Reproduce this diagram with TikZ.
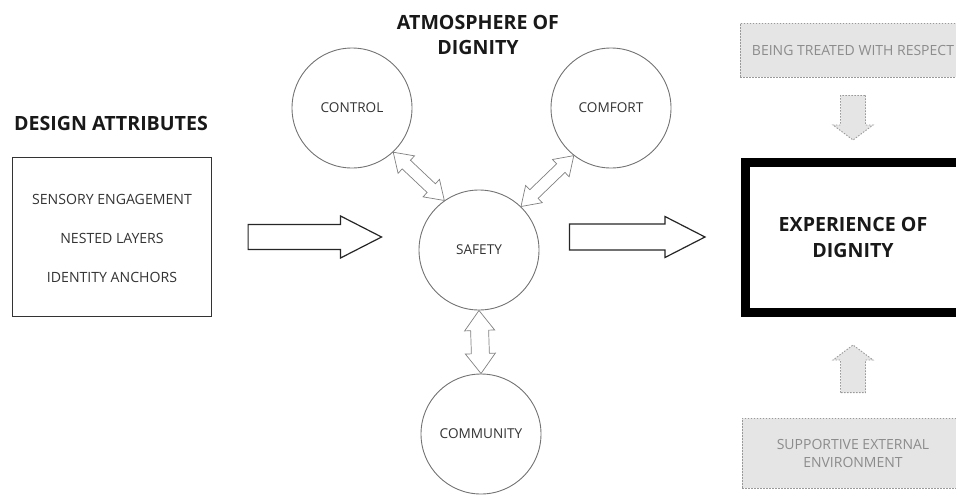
\documentclass[tikz,border=0pt]{standalone}
\usepackage{fontspec}
\setmainfont{Open Sans}
\usetikzlibrary{calc}

% hollow block arrow: style, from, to, shaft half width, head half width, head length
\newcommand{\hollowarrow}[6]{%
  \coordinate (ha-s) at (#2);
  \coordinate (ha-e) at (#3);
  \coordinate (ha-b) at ($(ha-e)!#6!(ha-s)$);
  \draw[#1] ($(ha-s)!#4!90:(ha-e)$) -- ($(ha-b)!#4!-90:(ha-s)$) -- ($(ha-b)!#5!-90:(ha-s)$) -- (ha-e)
    -- ($(ha-b)!#5!90:(ha-s)$) -- ($(ha-b)!#4!90:(ha-s)$) -- ($(ha-s)!#4!-90:(ha-e)$) -- cycle;
}
% hollow arrow with two heads
\newcommand{\twinarrow}[6]{%
  \coordinate (ta-s) at (#2);
  \coordinate (ta-e) at (#3);
  \coordinate (ta-b) at ($(ta-s)!#6!(ta-e)$);
  \coordinate (ta-c) at ($(ta-e)!#6!(ta-s)$);
  \draw[#1] (ta-s) -- ($(ta-b)!#5!90:(ta-e)$) -- ($(ta-b)!#4!90:(ta-e)$) -- ($(ta-c)!#4!-90:(ta-s)$)
    -- ($(ta-c)!#5!-90:(ta-s)$) -- (ta-e) -- ($(ta-c)!#5!90:(ta-s)$) -- ($(ta-c)!#4!90:(ta-s)$)
    -- ($(ta-b)!#4!-90:(ta-e)$) -- ($(ta-b)!#5!-90:(ta-e)$) -- cycle;
}

\tikzset{
  circ/.style={circle,draw=black!55,line width=0.9pt,minimum size=120pt,inner sep=0pt,
    text=black!80,font=\fontsize{13.6}{15}\selectfont},
  title/.style={font=\bfseries\fontsize{19.6}{25}\selectfont,text=black!90,align=center},
  item/.style={font=\fontsize{14.1}{16}\selectfont,text=black!80},
  blockarr/.style={draw=black!85,line width=1.2pt,fill=white},
  dblarr/.style={draw=black!50,line width=0.7pt,fill=white},
  faintarr/.style={draw=black!40,dash pattern=on 1.5pt off 1.5pt,line width=0.9pt,fill=black!10},
  faintbox/.style={draw=black!40,dash pattern=on 1.5pt off 1.5pt,line width=0.9pt,fill=black!10,
    text=black!45,align=center,font=\fontsize{14}{18}\selectfont,inner sep=0pt}
}

\begin{document}
\begin{tikzpicture}[x=1pt,y=-1pt]
  \useasboundingbox (0,0) rectangle (956,496);
  \clip (0,0) rectangle (956,496);

  % design attributes
  \node[title] (designtitle) at (111,123) {DESIGN ATTRIBUTES};
  \node[draw=black!80,line width=1.2pt,minimum width=199pt,minimum height=159pt] (design) at (112,237) {};
  \node[item] (sensory) at (112,199) {SENSORY ENGAGEMENT};
  \node[item] (nested) at (112,238) {NESTED LAYERS};
  \node[item] (identity) at (112,277) {IDENTITY ANCHORS};

  % atmosphere of dignity
  \node[title] (atmos) at (478,35) {ATMOSPHERE OF\\DIGNITY};
  \node[circ] (safety) at (479,250) {SAFETY};
  \node[circ] (control) at (352,108) {CONTROL};
  \node[circ] (comfort) at (611,108) {COMFORT};
  \node[circ] (community) at (481,434) {COMMUNITY};

  \twinarrow{dblarr}{control.-47}{safety.125}{6pt}{12pt}{18pt}
  \twinarrow{dblarr}{safety.46}{comfort.-128}{6pt}{12pt}{18pt}
  \twinarrow{dblarr}{safety.south}{community.north}{9pt}{15pt}{20pt}

  % experience of dignity
  \node[draw=black,line width=9pt,minimum width=215pt,minimum height=150pt,
    title,font=\bfseries\fontsize{19.6}{26}\selectfont] (experience) at (853,237.5) {EXPERIENCE OF\\DIGNITY};
  \node[faintbox,minimum width=226pt,minimum height=54pt] (respect) at (853,50) {BEING TREATED WITH RESPECT};
  \node[faintbox,minimum width=222pt,minimum height=70pt] (environment) at (853,453) {SUPPORTIVE EXTERNAL\\ENVIRONMENT};

  \hollowarrow{faintarr}{$(respect.south)+(0,18)$}{$(experience.north)+(0,-18)$}{12.5pt}{20pt}{15pt}
  \hollowarrow{faintarr}{$(environment.north)+(0,-25)$}{$(experience.south)+(0,28)$}{12.5pt}{20pt}{15pt}

  % main flow
  \hollowarrow{blockarr}{$(design.east)+(36,0)$}{$(safety.west|-design.east)+(-37,0)$}{12.5pt}{21pt}{41pt}
  \hollowarrow{blockarr}{$(safety.east|-design.east)+(30,0)$}{$(experience.west|-design.east)+(-36,0)$}{13pt}{20.5pt}{40pt}
\end{tikzpicture}
\end{document}
